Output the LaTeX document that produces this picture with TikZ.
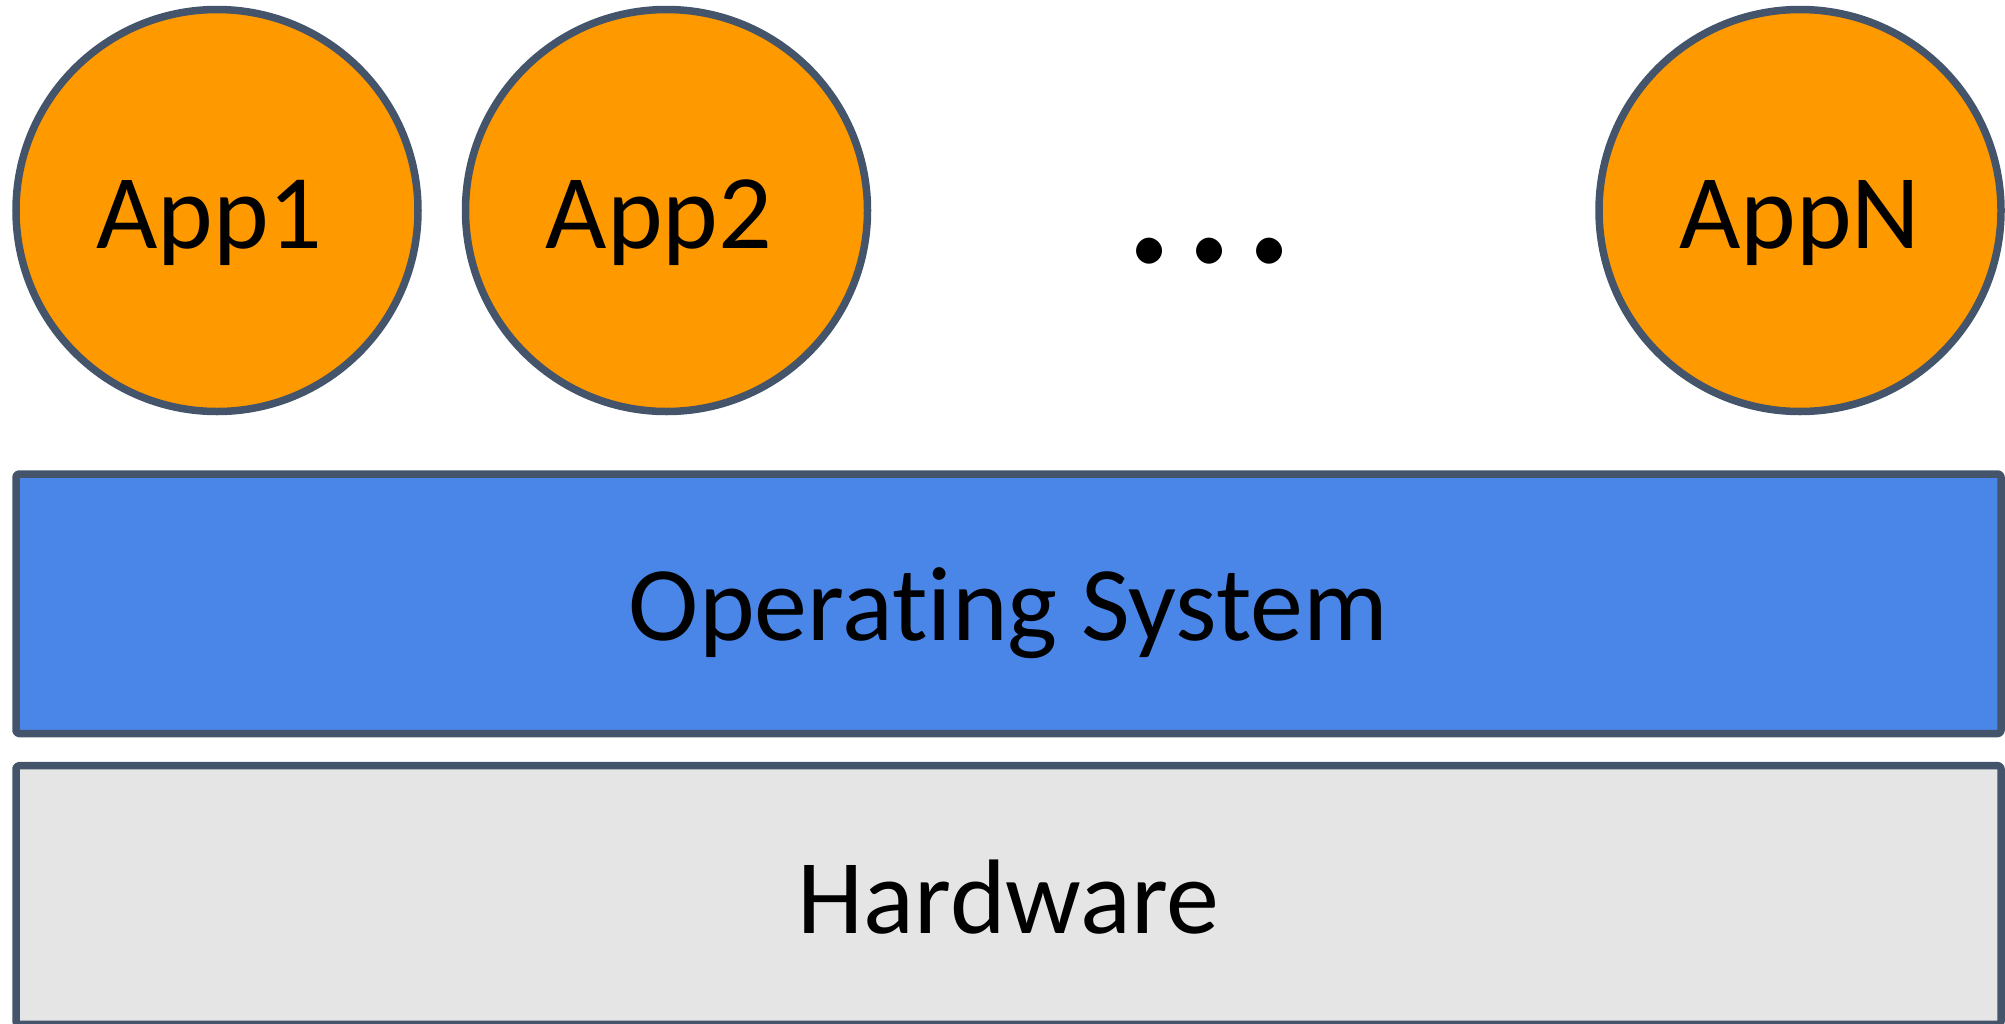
\documentclass[tikz,border=0pt]{standalone}
\usepackage{fontspec}
\setmainfont[Ligatures=NoCommon]{Carlito}
\definecolor{edge}{HTML}{44546A}
\definecolor{appfill}{HTML}{FF9900}
\definecolor{osfill}{HTML}{4A86E8}
\definecolor{hwfill}{HTML}{E5E5E5}
\begin{document}
\begin{tikzpicture}[x=1pt,y=-1pt,
  app/.style={circle, draw=edge, fill=appfill, line width=7.5pt,
    minimum size=402pt, inner sep=0pt},
  applabel/.style={anchor=base west, inner sep=0pt,
    font=\fontsize{106}{127}\selectfont},
  layer/.style={rectangle, draw=edge, line width=7.5pt, rounded corners=3pt,
    line join=round, minimum width=1985pt, inner sep=0pt},
  layerlabel/.style={anchor=base, inner sep=0pt,
    font=\fontsize{106}{127}\selectfont},
]
\useasboundingbox (0,0) rectangle (2005,1023);

% application circles
\node[app] (app1) at (217,210.5) {};
\node[app] (app2) at (666.5,210.5) {};
\node[app] (appN) at (1800,210.5) {};
\node[applabel] (app1text) at (96,248) {App1};
\node[applabel] (app2text) at (545.5,248) {App2};
\node[applabel] (appNtext) at (1679,248) {AppN};

% ellipsis between the apps
\node[anchor=base, inner sep=0pt, font=\fontsize{215}{260}\selectfont]
  (dots) at (1210,262) {.\kern6pt.\kern6pt.};

% operating system layer
\node[layer, fill=osfill, minimum height=259.5pt] (os) at (1008.5,603.75) {};
\node[layerlabel] (ostext) at (1008.5,640) {Operating System};

% hardware layer
\node[layer, fill=hwfill, minimum height=258.75pt] (hw) at (1008.5,895.1) {};
\node[layerlabel] (hwtext) at (1008.5,933) {Hardware};
\end{tikzpicture}
\end{document}
